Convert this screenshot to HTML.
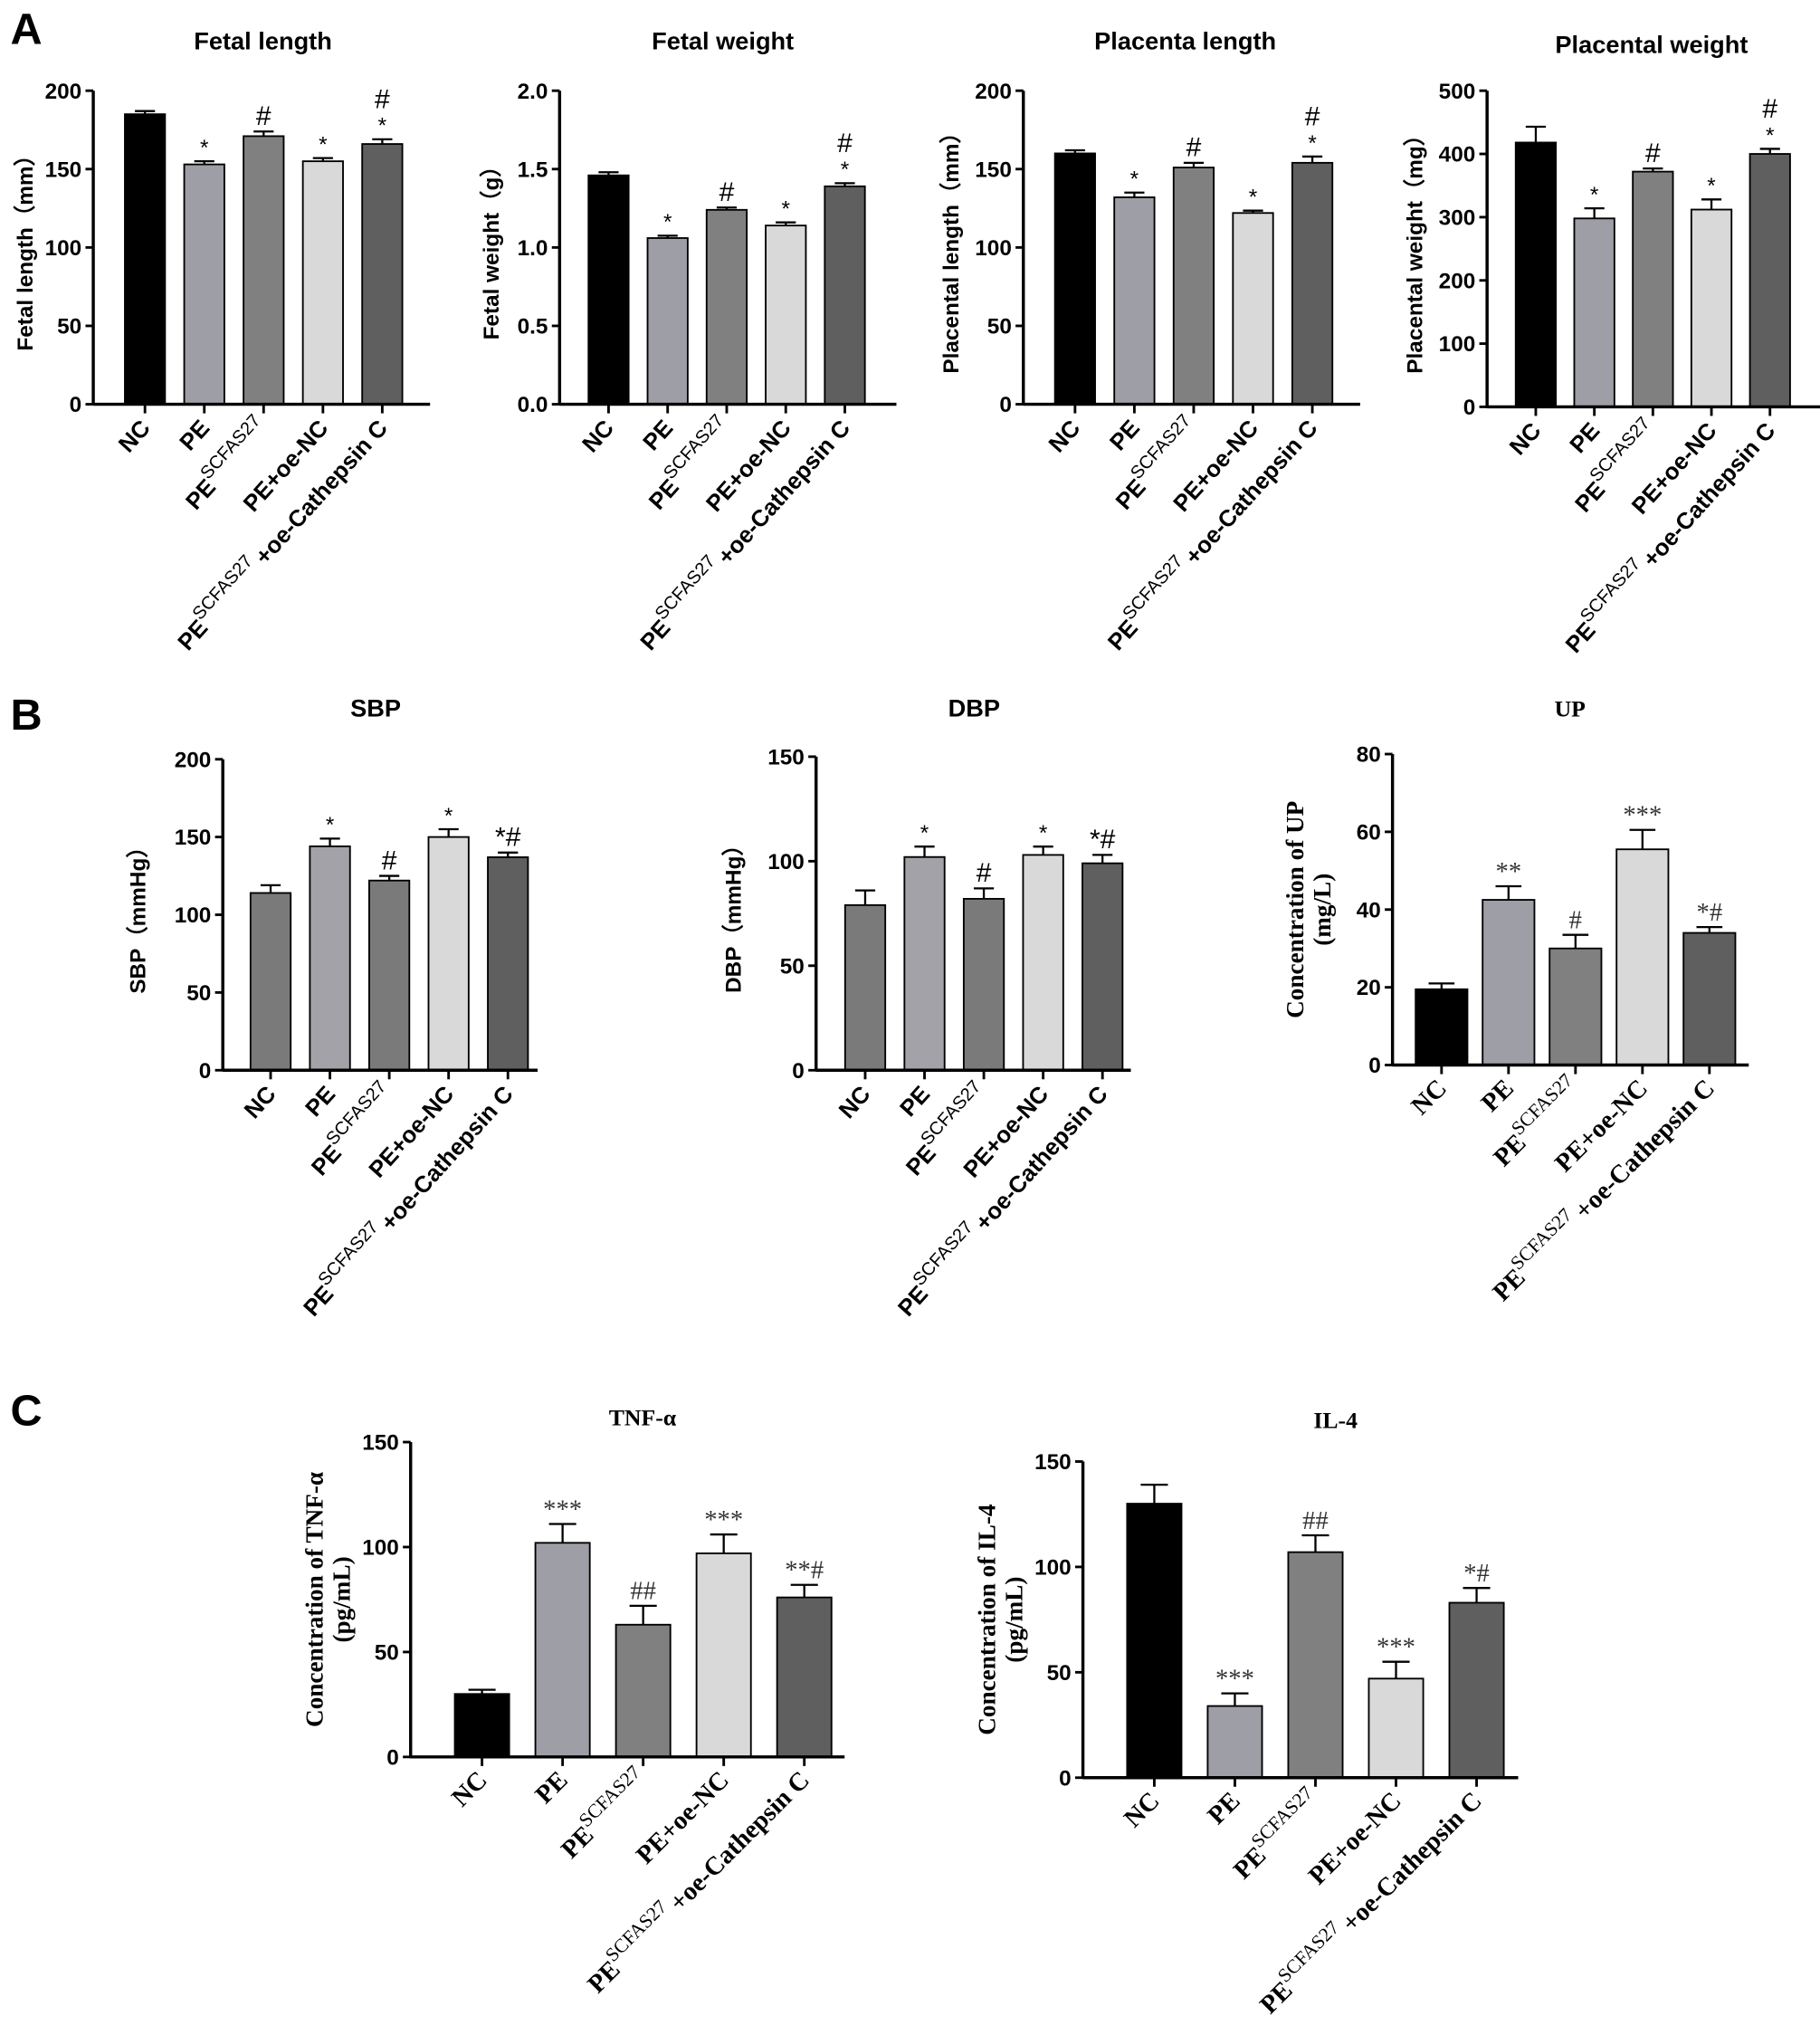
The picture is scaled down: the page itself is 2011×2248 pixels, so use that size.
<!DOCTYPE html>
<html><head><meta charset="utf-8">
<style>
html,body{margin:0;padding:0;background:#fff;}
svg{display:block;}
</style></head>
<body>
<svg id="fig" xmlns="http://www.w3.org/2000/svg" width="2011" height="2248" viewBox="0 0 1405 1570.6">
<text x="8" y="34" font-family="Liberation Sans, sans-serif" font-weight="bold" font-size="34">A</text>
<text x="8" y="563" font-family="Liberation Sans, sans-serif" font-weight="bold" font-size="34">B</text>
<text x="8" y="1100" font-family="Liberation Sans, sans-serif" font-weight="bold" font-size="34">C</text>
</svg>
<script>
const categories = ["NC","PE","PE^SCFAS27","PE+oe-NC","PE^SCFAS27\u2009+oe-Cathepsin C"];
const fetalLengthValues = [185,153,171,155,166];
const fetalLengthErrors = [2,2,3,2,3];
const fetalLengthSig = ["","*","#","*","*|#"];
const fetalWeightValues = [1.46,1.06,1.24,1.14,1.39];
const fetalWeightErrors = [0.02,0.015,0.015,0.02,0.02];
const fetalWeightSig = ["","*","#","*","*|#"];
const placentaLengthValues = [160,132,151,122,154];
const placentaLengthErrors = [2,3,3,1.5,4];
const placentaLengthSig = ["","*","#","*","*|#"];
const placentalWeightValues = [418,298,372,312,400];
const placentalWeightErrors = [25,16,5,16,8];
const placentalWeightSig = ["","*","#","*","*|#"];
const sbpValues = [114,144,122,150,137];
const sbpErrors = [5,5,3,5,3];
const sbpSig = ["","*","#","*","*#"];
const dbpValues = [79,102,82,103,99];
const dbpErrors = [7,5,5,4,4];
const dbpSig = ["","*","#","*","*#"];
const upValues = [19.5,42.5,30,55.5,34];
const upErrors = [1.5,3.5,3.5,5,1.5];
const upSig = ["","**","#","***","*#"];
const tnfValues = [30,102,63,97,76];
const tnfErrors = [2,9,9,9,6];
const tnfSig = ["","***","##","***","**#"];
const il4Values = [130,34,107,47,83];
const il4Errors = [9,6,8,8,7];
const il4Sig = ["","***","##","***","*#"];
const ticks200 = [0,50,100,150,200];
const ticks2 = ["0.0","0.5","1.0","1.5","2.0"];
const ticks500 = [0,100,200,300,400,500];
const ticks150 = [0,50,100,150];
const ticks80 = [0,20,40,60,80];

const NS = "http://www.w3.org/2000/svg";
const svg = document.getElementById("fig");
const colA = ["#000000","#9e9ea6","#808080","#d9d9d9","#5f5f5f"];
const colB = ["#7a7a7a","#a2a2a8","#7a7a7a","#d9d9d9","#5f5f5f"];
function mk(tag, attrs, parent){const e=document.createElementNS(NS,tag);for(const k in attrs)e.setAttribute(k,attrs[k]);(parent||svg).appendChild(e);return e;}

function chart(o){
  const g = mk("g",{});
  
  
  const ymax = o.max;
  const y = v => o.y0 - (v/ymax)*(o.y0-o.y1);
  const x = i => o.xs + o.step*(i+0.5);
  const sans = "Liberation Sans, Arial, sans-serif", serif="Liberation Serif, Times New Roman, serif";
  const lblFont = o.serif ? serif : sans;
  const t = mk("text",{x:o.tx,y:o.ty,"text-anchor":"middle","font-family":lblFont,"font-weight":"bold","font-size":o.serif?18:19},g);
  t.textContent=o.title;
  
  
  o.ylabel.forEach((ln,k)=>{
    const yl = mk("text",{transform:`translate(${o.lx+k*21},${(o.y0+o.y1)/2}) rotate(-90)`,"text-anchor":"middle","font-family":lblFont,"font-weight":"bold","font-size":o.serif?19:17},g);
    yl.textContent=ln;
    
    
  });
  o.vals.forEach((v,i)=>{
    const cx=x(i), top=y(v), eTop=y(v+o.errs[i]);
    const b = mk("rect",{x:cx-o.bw/2,y:top,width:o.bw,height:o.y0-top,fill:o.cols[i],stroke:"#000","stroke-width":1.3},g);
    
    
    mk("line",{x1:cx,x2:cx,y1:top,y2:eTop,stroke:"#000","stroke-width":1.6},g);
    mk("line",{x1:cx-o.bw/4,x2:cx+o.bw/4,y1:eTop,y2:eTop,stroke:"#000","stroke-width":1.6},g);
    const s=o.sig[i];
    if(s){
      s.split("|").forEach((p,k)=>{
        const st = mk("text",{x:cx,y:eTop-5-k*19,"text-anchor":"middle","font-family":o.serif?serif:sans,"font-size":o.serif?20:(p.indexOf("#")>=0?21:17),fill:o.serif?"#333":"#000"},g);
        st.textContent=p;
        
        
      });
    }
    mk("line",{x1:cx,x2:cx,y1:o.y0,y2:o.y0+7,stroke:"#000","stroke-width":2},g);
    const cat=categories[i];
    const lt = mk("text",{transform:`translate(${cx+5},${o.y0+19}) rotate(${o.rot})`,"text-anchor":"end","font-family":lblFont,"font-weight":"bold","font-size":o.serif?20:18},g);
    
    
    const m = cat.match(/^PE\^SCFAS27(.*)$/);
    if(m){
      const a=mk("tspan",{},lt);a.textContent="PE";
      const b2=mk("tspan",{"font-weight":"normal","font-size":o.serif?15:14,dy:-9},lt);b2.textContent="SCFAS27";
      const c=mk("tspan",{dy:9},lt);c.textContent=m[1]?m[1]:"";
    } else lt.textContent=cat;
  });
  mk("line",{x1:o.ax,x2:o.ax,y1:o.y1,y2:o.y0+1,stroke:"#000","stroke-width":2.4},g);
  mk("line",{x1:o.ax,x2:o.xe,y1:o.y0,y2:o.y0,stroke:"#000","stroke-width":2.4},g);
  o.ticks.forEach(tv=>{
    const yy=y(parseFloat(tv));
    mk("line",{x1:o.ax-6,x2:o.ax,y1:yy,y2:yy,stroke:"#000","stroke-width":2},g);
    const tl=mk("text",{x:o.ax-9,y:yy+6,"text-anchor":"end","font-family":sans,"font-weight":"bold","font-size":17},g);
    tl.textContent=tv;
    
    
  });
}

chart({name:"fetal-length-chart",title:"Fetal length",tx:203,ty:38,ylabel:["Fetal length（mm）"],lx:25,ax:72,xe:332,xs:89,step:45.8,bw:31,y0:312,y1:70,max:200,ticks:ticks200,vals:fetalLengthValues,errs:fetalLengthErrors,sig:fetalLengthSig,cols:colA,rot:-48});
chart({name:"fetal-weight-chart",title:"Fetal weight",tx:558,ty:38,ylabel:["Fetal weight（g）"],lx:385,ax:432,xe:692,xs:447,step:45.6,bw:31,y0:312,y1:70,max:2,ticks:ticks2,vals:fetalWeightValues,errs:fetalWeightErrors,sig:fetalWeightSig,cols:colA,rot:-48});
chart({name:"placenta-length-chart",title:"Placenta length",tx:915,ty:38,ylabel:["Placental length（mm）"],lx:740,ax:790,xe:1050,xs:807,step:45.8,bw:31,y0:312,y1:70,max:200,ticks:ticks200,vals:placentaLengthValues,errs:placentaLengthErrors,sig:placentaLengthSig,cols:colA,rot:-48});
chart({name:"placental-weight-chart",title:"Placental weight",tx:1275,ty:41,ylabel:["Placental weight（mg）"],lx:1098,ax:1148,xe:1406,xs:1163,step:45.2,bw:31,y0:314,y1:70,max:500,ticks:ticks500,vals:placentalWeightValues,errs:placentalWeightErrors,sig:placentalWeightSig,cols:colA,rot:-48});
chart({name:"sbp-chart",title:"SBP",tx:290,ty:553,ylabel:["SBP（mmHg）"],lx:112,ax:172,xe:415,xs:186,step:45.8,bw:31,y0:826,y1:586,max:200,ticks:ticks200,vals:sbpValues,errs:sbpErrors,sig:sbpSig,cols:colB,rot:-48});
chart({name:"dbp-chart",title:"DBP",tx:752,ty:553,ylabel:["DBP（mmHg）"],lx:572,ax:630,xe:873,xs:645,step:45.8,bw:31,y0:826,y1:584,max:150,ticks:ticks150,vals:dbpValues,errs:dbpErrors,sig:dbpSig,cols:colB,rot:-48});
chart({name:"up-chart",title:"UP",tx:1212,ty:553,ylabel:["Concentration of UP","(mg/L)"],lx:1006,ax:1075,xe:1350,xs:1087,step:51.7,bw:40,y0:822,y1:582,max:80,ticks:ticks80,vals:upValues,errs:upErrors,sig:upSig,cols:colA,rot:-45,serif:true});
chart({name:"tnf-alpha-chart",title:"TNF-α",tx:496,ty:1100,ylabel:["Concentration of TNF-α","(pg/mL)"],lx:249,ax:317,xe:652,xs:341,step:62.2,bw:42,y0:1356,y1:1113,max:150,ticks:ticks150,vals:tnfValues,errs:tnfErrors,sig:tnfSig,cols:colA,rot:-45,serif:true});
chart({name:"il-4-chart",title:"IL-4",tx:1031,ty:1102,ylabel:["Concentration of IL-4","(pg/mL)"],lx:768,ax:836,xe:1172,xs:860,step:62.2,bw:42,y0:1372,y1:1128,max:150,ticks:ticks150,vals:il4Values,errs:il4Errors,sig:il4Sig,cols:colA,rot:-45,serif:true});
</script>
</body></html>
